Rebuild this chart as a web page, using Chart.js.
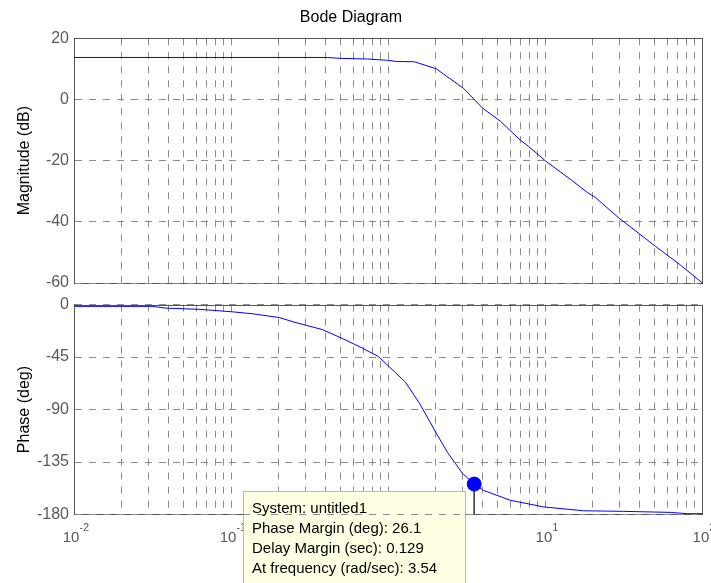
<!DOCTYPE html>
<html>
<head>
<meta charset="utf-8">
<title>Bode Diagram</title>
<script src="https://cdn.jsdelivr.net/npm/chart.js@4.4.0/dist/chart.umd.min.js"></script>
<style>
  body { margin: 0; background: #fff; }
  #wrap { position: relative; width: 711px; height: 583px; overflow: hidden; background: #fff; }
  #wrap canvas { position: absolute; left: 0; }
  #magChart { top: 0; }
  #phaseChart { top: 290px; }
</style>
</head>
<body>
<div id="wrap">
  <canvas id="magChart" width="711" height="300"></canvas>
  <canvas id="phaseChart" width="711" height="293"></canvas>
</div>
<script>
// values
const magFreq = [0.01, 0.1, 0.41, 0.5, 0.74, 0.98, 1.14, 1.47, 2.03, 3.03, 3.54, 4.01, 5.19, 6.96, 7.83, 10.0, 14.5, 18.6, 20.9, 29.3, 50.5, 72.8, 100];
const magDb = [13.7, 13.7, 13.7, 13.4, 13.2, 12.8, 12.4, 12.3, 10.0, 3.6, 0.0, -2.9, -7.1, -13.3, -15.3, -20.0, -26.1, -30.4, -32.0, -38.6, -48.0, -54.1, -59.9];

const phaseFreq = [0.01, 0.0314, 0.0385, 0.0635, 0.1, 0.136, 0.203, 0.252, 0.381, 0.511, 0.654, 0.867, 1.29, 1.6, 2.03, 2.4, 2.97, 3.54, 4.06, 6.01, 9.8, 17.6, 31.6, 62.9, 80.7, 100];
const phaseDeg = [-1.5, -1.5, -3.0, -4.1, -6.1, -7.8, -11.1, -15.0, -21.4, -29.0, -35.9, -44.4, -66.4, -85.4, -110.3, -127.0, -144.5, -153.9, -159.3, -167.8, -173.5, -176.8, -177.3, -178.2, -179.3, -179.3];

const magTicks = [-60, -40, -20, 0, 20];
const phaseTicks = [-180, -135, -90, -45, 0];
const decades = [0.01, 0.1, 1, 10, 100];
const decadeExp = ["-2", "-1", "0", "1", "2"];

// data tip (phase margin marker)
const tipFreq = 3.54;
const tipMargin = 26.1;
const tipLines = ["System: untitled1", "Phase Margin (deg): 26.1", "Delay Margin (sec): 0.129", "At frequency (rad/sec): 3.54"];

const font = "'Liberation Sans', Arial, sans-serif";
const gridColor = "#8c8c8c";
const axisColor = "#555555";
const labelColor = "#5a5a5a";
const blue = "#0000ff";

Chart.defaults.font.family = font;

//grid lines at 1..9 of every decade
let gridFreqs = [];
decades.forEach(function (d, i) {
  if (i == decades.length - 1) {
    gridFreqs.push(d);
    return;
  }
  for (let k = 1; k < 10; k++) gridFreqs.push(d * k);
});

function points(xs, ys) {
  return xs.map(function (x, i) {
    return { x: x, y: ys[i] };
  });
}

function xAxis() {
  return {
    type: "logarithmic",
    min: decades[0],
    max: decades[decades.length - 1],
    afterBuildTicks: function (s) {
      s.ticks = gridFreqs.map(function (v) { return { value: v }; });
    },
    ticks: { display: false },
    grid: { color: gridColor, drawTicks: false, lineWidth: 1 },
    border: { color: axisColor, dash: [7, 7] },
  };
}

// z: the phase grid goes over the data tip box, border must follow the grid
function yAxis(ticks, label, z) {
  return {
    min: ticks[0],
    max: ticks[ticks.length - 1],
    afterBuildTicks: function (s) {
      s.ticks = ticks.map(function (v) { return { value: v }; });
    },
    afterFit: function (s) {
      s.width = 74;
    },
    ticks: { color: labelColor, font: { size: 16 }, padding: 5 },
    grid: { color: gridColor, drawTicks: false, z: z },
    border: { color: axisColor, dash: [7, 7], z: z },
    title: {
      display: true,
      text: label,
      color: "#000",
      font: { size: 16 },
      padding: { top: 15, bottom: 0 },
    },
  };
}

//top and right edge of the axes box
function drawFrame(ctx, a) {
  ctx.save();
  ctx.strokeStyle = axisColor;
  ctx.lineWidth = 1;
  ctx.beginPath();
  ctx.moveTo(a.left, Math.round(a.top) + 0.5);
  ctx.lineTo(Math.round(a.right) + 0.5, Math.round(a.top) + 0.5);
  ctx.lineTo(Math.round(a.right) + 0.5, a.bottom);
  ctx.stroke();
  ctx.restore();
}

const magFrame = {
  id: "magFrame",
  afterDraw: function (chart) {
    drawFrame(chart.ctx, chart.chartArea);
  },
};

const phaseExtras = {
  id: "phaseExtras",
  beforeDatasetsDraw: function (chart) {
    const ctx = chart.ctx;
    const a = chart.chartArea;
    const xs = chart.scales.x;
    const ys = chart.scales.y;
    drawFrame(ctx, a);

    // 10^n labels under the axis
    ctx.save();
    ctx.fillStyle = labelColor;
    ctx.textBaseline = "alphabetic";
    decades.forEach(function (d, i) {
      const x = xs.getPixelForValue(d);
      ctx.font = "15px " + font;
      const w1 = ctx.measureText("10").width;
      ctx.font = "11px " + font;
      const w2 = ctx.measureText(decadeExp[i]).width;
      const left = x - (w1 + w2) / 2 + 2;
      ctx.font = "15px " + font;
      ctx.fillText("10", left, a.bottom + 27.5);
      ctx.font = "11px " + font;
      ctx.fillText(decadeExp[i], left + w1, a.bottom + 16.5);
    });
    ctx.restore();

    // data tip box, placed left below the marker
    const px = xs.getPixelForValue(tipFreq);
    const py = ys.getPixelForValue(-180 + tipMargin);
    const bw = 222;
    const right = Math.round(px) - 9;
    const top = Math.round(py) + 7;
    ctx.save();
    ctx.fillStyle = "#ffffe3";
    ctx.fillRect(right - bw, top, bw, 120);
    ctx.strokeStyle = "#b9b9a5";
    ctx.lineWidth = 1;
    ctx.strokeRect(right - bw + 0.5, top + 0.5, bw, 120);
    ctx.fillStyle = "#000";
    ctx.font = "15px " + font;
    ctx.textBaseline = "middle";
    tipLines.forEach(function (t, i) {
      ctx.fillText(t, right - bw + 9, top + 18 + i * 20);
    });
    ctx.restore();
  },
};

const magChart = new Chart(document.getElementById("magChart"), {
  type: "line",
  data: {
    datasets: [
      {
        data: points(magFreq, magDb),
        borderColor: blue,
        borderWidth: 1,
        pointRadius: 0,
        tension: 0,
      },
    ],
  },
  options: {
    responsive: false,
    animation: false,
    devicePixelRatio: 1,
    layout: { padding: { left: 0, right: 9, top: 0, bottom: 17 } },
    plugins: {
      legend: { display: false },
      tooltip: { enabled: false },
      title: {
        display: true,
        text: "Bode Diagram",
        color: "#000",
        font: { size: 16, weight: "normal" },
        padding: { top: 8, bottom: 11 },
      },
    },
    scales: {
      x: xAxis(),
      y: yAxis(magTicks, "Magnitude (dB)", 0),
    },
  },
  plugins: [magFrame],
});

const phaseChart = new Chart(document.getElementById("phaseChart"), {
  type: "line",
  data: {
    datasets: [
      {
        // marker dot
        data: [{ x: tipFreq, y: -180 + tipMargin }],
        showLine: false,
        pointRadius: 7,
        pointBackgroundColor: blue,
        pointBorderColor: blue,
        clip: false,
      },
      {
        data: points(phaseFreq, phaseDeg),
        borderColor: blue,
        borderWidth: 1,
        pointRadius: 0,
        tension: 0,
      },
      {
        // stem from the marker down to the axis
        data: [{ x: tipFreq, y: -180 + tipMargin }, { x: tipFreq, y: -180 }],
        borderColor: "#444",
        borderWidth: 1,
        pointRadius: 0,
      },
    ],
  },
  options: {
    responsive: false,
    animation: false,
    devicePixelRatio: 1,
    layout: { padding: { left: 0, right: 9, top: 11.5, bottom: 68.5 } },
    plugins: {
      legend: { display: false },
      tooltip: { enabled: false },
    },
    scales: {
      x: xAxis(),
      y: yAxis(phaseTicks, "Phase (deg)", 1),
    },
  },
  plugins: [phaseExtras],
});
</script>
</body>
</html>
